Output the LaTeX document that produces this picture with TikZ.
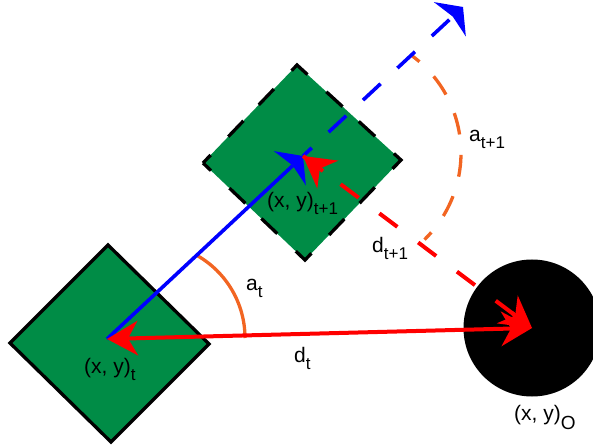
\documentclass[tikz,border=0pt]{standalone}
\usepackage{fontspec}
\setmainfont{Liberation Sans}
\usetikzlibrary{arrows.meta,calc}
\definecolor{dgreen}{RGB}{0,140,70}
\definecolor{arcorange}{RGB}{242,101,34}
\newcommand{\lblsub}[4]{#1\raisebox{-#3}{\fontsize{#4}{#4}\selectfont #2}}
\tikzset{
  redtip/.tip={Stealth[length=31pt,width=35pt,inset=10pt,line width=0pt]},
  bluetip/.tip={Stealth[length=18pt,width=47pt,inset=4pt,line width=0pt]},
  lbl/.style={anchor=base west, inner sep=0pt, font=\fontsize{21}{21}\selectfont},
  robot/.style={fill=dgreen, draw=black, line width=3.3pt, line join=miter},
  dashrobot/.style={draw=black, line width=3.3pt, line join=miter,
    dash pattern=on 22pt off 25.5pt on 22pt off 22pt on 22pt off 25.5pt, dash phase=11pt},
  blueline/.style={draw=blue, line width=3.6pt},
  redline/.style={draw=red, line width=4pt},
  anglearc/.style={draw=arcorange, line width=3.3pt},
}
\begin{document}
\begin{tikzpicture}[x=1pt,y=1pt]
\useasboundingbox (0,0) rectangle (593,447);
% key points
\coordinate (A) at (107,108);
\coordinate (C2) at (303,291);
\coordinate (T) at (463,440);
\coordinate (O) at (532,119);
\coordinate (P) at ($(C2)!12pt!(T)$);
% robot at t
\coordinate (L1) at (10,104);
\coordinate (T1) at (108,202);
\coordinate (R1) at (209,103);
\coordinate (B1) at (111,5);
\path[robot] (L1) -- (T1) -- (R1) -- (B1) -- cycle;
% robot at t+1
\coordinate (L2) at (203,284);
\coordinate (T2) at (297,382);
\coordinate (R2) at (401,287);
\coordinate (B2) at (305,187);
\fill[dgreen] (L2) -- (T2) -- (R2) -- (B2) -- cycle;
\draw[dashrobot] (L2) -- (T2) -- (R2) -- (B2) -- cycle;
% obstacle
\fill[black] (O) circle[radius=68.5];
% angle arcs
\coordinate (ArcA) at (150,109);
\draw[anglearc] ($(ArcA)+(60.7:95)$) arc[start angle=60.7, end angle=0, radius=95];
\coordinate (ArcB) at (340,294);
\draw[anglearc, dash pattern=on 22pt off 20.4pt, dash phase=12pt]
  ($(ArcB)+(53.7:121)$) arc[start angle=53.7, end angle=-45.7, radius=121];
% heading line
\draw[blueline, -{bluetip}] (A) -- (C2);
\draw[blueline] (C2) -- (P);
\draw[blueline, dash pattern=on 24pt off 23pt, dash phase=24pt, -{bluetip}] (P) -- (T);
% distance at t
\draw[redline, {redtip}-{redtip}] (A) -- (O);
% distance at t+1
\draw[redline, dash pattern=on 22.5pt off 26pt, dash phase=1.5pt] (C2) -- (O);
\draw[redline, -{redtip}] ($(C2)!25pt!(O)$) -- (C2);
\draw[redline, -{redtip}] ($(O)!25pt!(C2)$) -- (O);
% labels
\node[lbl] (lpt) at (84,74) {\lblsub{(x, y)}{t}{7pt}{17}};
\node[lbl] (lpt1) at (267,239) {\lblsub{(x, y)}{t+1}{7pt}{17}};
\node[lbl] (lpo) at (514,27) {\lblsub{(x, y)}{O}{9pt}{19}};
\node[lbl] (ldt) at (294,85) {\lblsub{d}{t}{7pt}{17}};
\node[lbl] (lat) at (246,157) {\lblsub{a}{t}{7pt}{17}};
\node[lbl] (ldt1) at (372,194) {\lblsub{d}{t+1}{7pt}{17}};
\node[lbl] (lat1) at (469,305) {\lblsub{a}{t+1}{7pt}{17}};
\end{tikzpicture}
\end{document}
